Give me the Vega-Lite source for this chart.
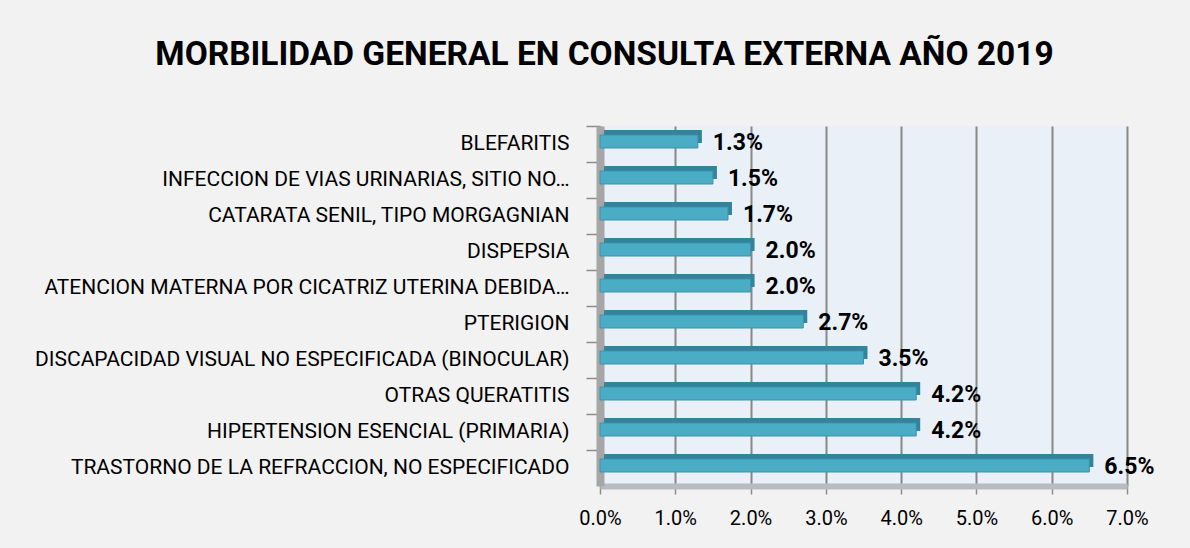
{
  "$schema": "https://vega.github.io/schema/vega-lite/v6.json",
  "autosize": {"type": "none"},
  "width": 527,
  "height": 360,
  "padding": {"left": 600, "top": 126, "right": 63, "bottom": 62},
  "background": "#f2f2f2",
  "title": {
    "text": "MORBILIDAD GENERAL EN CONSULTA EXTERNA AÑO 2019",
    "font": "Roboto",
    "fontSize": 33.5,
    "fontWeight": "bold",
    "color": "#000000",
    "anchor": "middle",
    "frame": "group",
    "baseline": "alphabetic",
    "dx": -259,
    "offset": 27
  },
  "config": {
    "view": {"fill": "#e9f0f7", "stroke": null},
    "font": "Roboto"
  },
  "data": {
    "values": [
      {"causa": "BLEFARITIS", "v": 0.013},
      {"causa": "INFECCION DE VIAS URINARIAS, SITIO NO…", "v": 0.015},
      {"causa": "CATARATA SENIL, TIPO MORGAGNIAN", "v": 0.017},
      {"causa": "DISPEPSIA", "v": 0.020},
      {"causa": "ATENCION MATERNA POR CICATRIZ UTERINA DEBIDA…", "v": 0.020},
      {"causa": "PTERIGION", "v": 0.027},
      {"causa": "DISCAPACIDAD VISUAL NO ESPECIFICADA (BINOCULAR)", "v": 0.035},
      {"causa": "OTRAS QUERATITIS", "v": 0.042},
      {"causa": "HIPERTENSION ESENCIAL (PRIMARIA)", "v": 0.042},
      {"causa": "TRASTORNO DE LA REFRACCION, NO ESPECIFICADO", "v": 0.065}
    ]
  },
  "encoding": {
    "y": {
      "field": "causa",
      "type": "nominal",
      "sort": null,
      "scale": {"paddingInner": 0, "paddingOuter": 0},
      "axis": {
        "title": null,
        "domainColor": "#a6a6a6",
        "domainWidth": 8,
        "tickColor": "#8c8c8c",
        "tickSize": 14,
        "tickWidth": 1.5,
        "bandPosition": 0,
        "labelFont": "Roboto",
        "labelFontSize": 21,
        "labelColor": "#000000",
        "labelPadding": 17,
        "labelLimit": 700
      }
    }
  },
  "layer": [
    {
      "mark": {"type": "bar", "color": "#31849b", "size": 13, "xOffset": 4, "yOffset": -7.5},
      "encoding": {
        "x": {
          "field": "v",
          "type": "quantitative",
          "scale": {"domain": [0, 0.07], "nice": false},
          "axis": {
            "title": null,
            "format": ".1%",
            "values": [0, 0.01, 0.02, 0.03, 0.04, 0.05, 0.06, 0.07],
            "labelFlush": false,
            "labelOverlap": false,
            "grid": true,
            "gridColor": "#878787",
            "gridWidth": 2,
            "domainColor": "#b8bcc0",
            "domainWidth": 6,
            "tickColor": "#8c8c8c",
            "tickSize": 8,
            "tickWidth": 1.5,
            "labelFont": "Roboto",
            "labelFontSize": 20,
            "labelColor": "#000000",
            "labelPadding": 14
          }
        }
      }
    },
    {
      "mark": {"type": "bar", "color": "#4bacc6", "size": 13, "yOffset": -2.5, "stroke": "#3c93ab", "strokeWidth": 1},
      "encoding": {
        "x": {"field": "v", "type": "quantitative"}
      }
    },
    {
      "mark": {"type": "text", "align": "left", "baseline": "middle", "dx": 15, "dy": -1, "font": "Roboto", "fontWeight": "bold", "fontSize": 23, "color": "#000000"},
      "encoding": {
        "x": {"field": "v", "type": "quantitative"},
        "text": {"field": "v", "type": "quantitative", "format": ".1%"}
      }
    }
  ]
}
